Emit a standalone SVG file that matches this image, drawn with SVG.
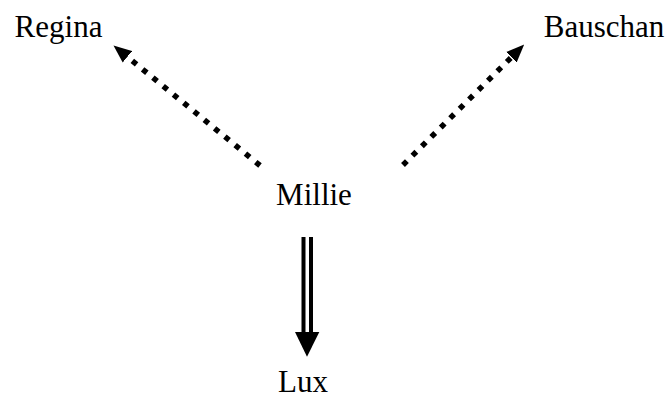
<svg xmlns="http://www.w3.org/2000/svg" width="666" height="399" viewBox="0 0 666 399">
<style>
text{font-family:"Liberation Serif","Times New Roman",serif;font-size:31px;fill:#000;text-anchor:middle}
.dot{fill:none;stroke:#000;stroke-width:5.5;stroke-dasharray:5.5 7.8}
.dbl{fill:none;stroke:#000;stroke-width:4}
.head{fill:#000}
</style>
<defs>
<marker id="ah" markerUnits="userSpaceOnUse" markerWidth="18" markerHeight="16" refX="0" refY="7" orient="auto" viewBox="0 0 17 14">
<polygon points="0,0 17,7 0,14" class="head"/>
</marker>
</defs>
<g id="connectors">
<path class="dot" d="M260,165.5 L127.4,56.8" marker-end="url(#ah)"/>
<path class="dot" d="M403,165 L511.4,57.3" marker-end="url(#ah)"/>
<path class="dbl" d="M303.5,237 V332 M311,237 V332"/>
<polygon class="head" points="295,332 319.3,332 307,356.7"/>
</g>
<g id="Regina"><text x="58.5" y="37">Regina</text></g>
<g id="Bauschan"><text x="604" y="37">Bauschan</text></g>
<g id="Millie"><text x="314" y="205">Millie</text></g>
<g id="Lux"><text x="303" y="392">Lux</text></g>
</svg>
